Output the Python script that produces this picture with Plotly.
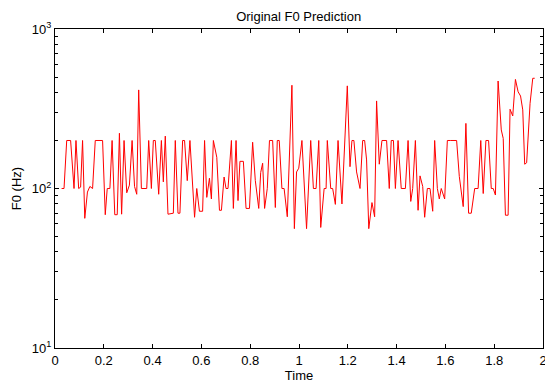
import plotly.graph_objects as go

time_s = [0.027, 0.037, 0.048, 0.064, 0.078, 0.086, 0.097, 0.105, 0.113, 0.122, 0.133, 0.143, 0.154, 0.165, 0.195,
          0.206, 0.214, 0.225, 0.234, 0.245, 0.255, 0.264, 0.273, 0.283, 0.294, 0.305, 0.316, 0.326, 0.335, 0.343,
          0.354, 0.376, 0.384, 0.395, 0.403, 0.411, 0.425, 0.436, 0.444, 0.452, 0.463, 0.485, 0.493, 0.504, 0.512,
          0.523, 0.531, 0.542, 0.553, 0.572, 0.581, 0.592,
          0.605, 0.613, 0.622, 0.633, 0.641, 0.649, 0.663, 0.674, 0.682, 0.693, 0.701, 0.709, 0.723, 0.731, 0.742,
          0.750, 0.758, 0.772, 0.783, 0.797, 0.810, 0.821, 0.835, 0.843, 0.851, 0.859, 0.870, 0.879, 0.892, 0.903,
          0.911, 0.919, 0.930, 0.939, 0.952, 0.971, 0.981, 0.990, 0.999, 1.012, 1.031, 1.048, 1.059, 1.070, 1.081,
          1.089, 1.103, 1.111, 1.116, 1.130, 1.138, 1.149, 1.160, 1.176, 1.198, 1.209, 1.217, 1.225, 1.236,
          1.250, 1.261, 1.269, 1.277, 1.286, 1.299, 1.310, 1.318, 1.329, 1.340, 1.359, 1.370, 1.378, 1.387, 1.395,
          1.406, 1.419, 1.436, 1.447, 1.458, 1.466, 1.477, 1.488, 1.496, 1.507, 1.515, 1.526, 1.537, 1.548, 1.556,
          1.567, 1.575, 1.583, 1.597, 1.608, 1.622, 1.635, 1.646, 1.657, 1.673, 1.684, 1.695, 1.706, 1.720, 1.734,
          1.745, 1.755, 1.766, 1.777, 1.788, 1.796, 1.805, 1.816, 1.829, 1.837, 1.846, 1.857, 1.865, 1.876, 1.887,
          1.898, 1.908, 1.917, 1.925, 1.933, 1.947, 1.958, 1.966]

f0_hz = [100, 100, 200, 200, 100, 200, 100, 102, 200, 65, 95, 103, 100, 200, 200,
         68.5, 100, 100, 200, 68.5, 68.5, 222, 69, 200, 94, 105, 200, 103, 92, 415,
         100, 100, 200, 100, 200, 200, 92, 200, 110, 213, 69, 70, 200, 70, 70,
         200, 200, 112, 200, 66, 100, 72,
         72, 200, 88, 116, 86, 200, 157, 73, 73, 118, 100, 100, 200, 75, 200,
         84, 148, 148, 75, 75, 195, 112, 75, 126, 144, 75, 100, 200, 200, 76,
         200, 200, 100, 100, 66.5, 444, 56, 127, 134, 200, 56, 200, 100, 100, 200,
         57, 100, 100, 200, 100, 100, 79.5, 200, 80, 440, 137, 200, 200, 127,
         100, 200, 200, 151, 56, 81.6, 66.5, 354, 142, 200, 200, 100, 200, 200, 100,
         200, 100, 100, 200, 83, 100, 200, 73, 120, 103, 66, 100, 100, 72, 200,
         100, 86, 100, 86, 200, 200, 200, 200, 119, 77, 256, 70, 70, 100, 100,
         200, 93, 200, 200, 100, 100, 91, 472, 233, 206, 68, 68, 314, 285, 483,
         404, 380, 311, 142, 145, 342, 491, 491]

x_ticks = [0, 0.2, 0.4, 0.6, 0.8, 1, 1.2, 1.4, 1.6, 1.8, 2]
x_labels = ["0", "0.2", "0.4", "0.6", "0.8", "1", "1.2", "1.4", "1.6", "1.8", "2"]

y_major = [10, 100, 1000]
y_labels = ["10<sup>1</sup>", "10<sup>2</sup>", "10<sup>3</sup>"]
y_minor = [20, 30, 40, 50, 60, 70, 80, 90, 200, 300, 400, 500, 600, 700, 800, 900]

fig = go.Figure()
fig.add_trace(go.Scatter(x=time_s, y=f0_hz, mode="lines",
                         line=dict(color="#ff0000", width=1), showlegend=False))
# empty-looking trace so the minor-tick overlay axis is drawn
fig.add_trace(go.Scatter(x=[time_s[0]], y=[f0_hz[0]], yaxis="y2", mode="lines",
                         line=dict(color="rgba(0,0,0,0)", width=0), showlegend=False, hoverinfo="skip"))

font = dict(family="Liberation Sans, Arial, sans-serif", size=13, color="#000000")
fig.update_layout(
    width=545, height=383,
    margin=dict(l=55, r=2, t=29, b=35, autoexpand=False),
    paper_bgcolor="white", plot_bgcolor="white",
    font=font,
    title=dict(text="Original F0 Prediction", x=0.548, xanchor="center", y=0.957, yanchor="middle",
               font=dict(family="Liberation Sans, Arial, sans-serif", size=13, color="#000")),
    xaxis=dict(range=[0, 2], tickvals=x_ticks, ticktext=x_labels, ticklabeloverflow="allow",
               automargin=False,
               showline=True, linecolor="black", linewidth=1, mirror="ticks",
               ticks="inside", ticklen=4, tickcolor="black", showgrid=False, zeroline=False,
               title=dict(text="Time", standoff=1, font=font), tickfont=font),
    yaxis=dict(type="log", range=[1, 3], tickvals=y_major, ticktext=y_labels, automargin=False,
               showline=True, linecolor="black", linewidth=1, mirror="ticks",
               ticks="inside", ticklen=4, tickcolor="black", showgrid=False, zeroline=False,
               title=dict(text="F0 (Hz)", standoff=7, font=font), tickfont=font),
    yaxis2=dict(type="log", range=[1, 3], overlaying="y", side="left", tickvals=y_minor,
                automargin=False,
                showticklabels=False, ticks="inside", ticklen=3, tickcolor="black", tickwidth=1,
                showline=True, linecolor="black", linewidth=1, mirror="ticks",
                showgrid=False, zeroline=False),
)

fig.write_html("out.html")
